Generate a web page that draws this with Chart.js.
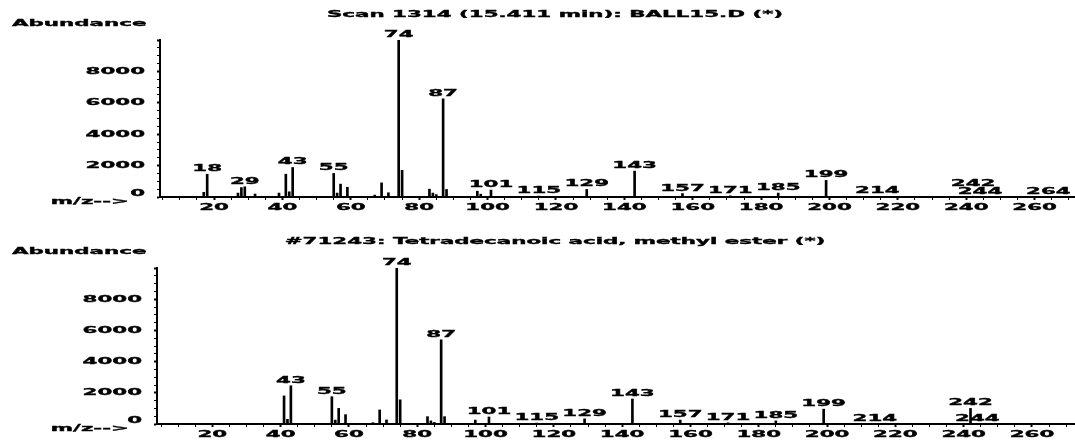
<!DOCTYPE html>
<html>
<head>
<meta charset="utf-8">
<script src="https://cdn.jsdelivr.net/npm/chart.js@4"></script>
<style>
  body { margin: 0; background: #fff; }
  .box { position: absolute; left: 0; width: 1075px; height: 221px; }
  #topBox { top: 0; }
  #botBox { top: 221px; }
</style>
</head>
<body>
<div class="box" id="topBox"><canvas id="scan" width="1075" height="221"></canvas></div>
<div class="box" id="botBox"><canvas id="lib" width="1075" height="221"></canvas></div>
<script>
// upper spectrum: the measured scan
var scanTitle = 'Scan 1314 (15.411 min): BALL15.D (*)';
var scanMz = [17, 18, 27, 28, 29, 32, 39, 41, 42, 43, 55, 56, 57, 59, 67, 69, 71, 74, 75, 83, 84, 85, 87, 88, 97, 98, 101, 115, 129, 143, 157, 171, 185, 199, 214, 242, 244, 264];
var scanAbundance = [300, 1450, 250, 600, 650, 190, 250, 1450, 330, 1880, 1500, 250, 820, 620, 120, 900, 270, 9990, 1700, 500, 250, 150, 6250, 480, 370, 180, 440, 60, 480, 1650, 220, 75, 250, 1060, 30, 50, 20, 20];
var scanLabelled = [18, 29, 43, 55, 74, 87, 101, 115, 129, 143, 157, 171, 185, 199, 214, 242, 244, 264];

// lower spectrum: library match
var libTitle = '#71243: Tetradecanoic acid, methyl ester (*)';
var libMz = [41, 42, 43, 55, 56, 57, 59, 67, 69, 71, 74, 75, 83, 84, 85, 87, 88, 97, 101, 115, 129, 143, 157, 171, 185, 199, 214, 242, 244];
var libAbundance = [1800, 300, 2450, 1750, 250, 1000, 600, 85, 900, 260, 9990, 1550, 470, 200, 100, 5400, 470, 250, 450, 60, 330, 1600, 250, 75, 200, 950, 30, 1000, 30];
var libLabelled = [43, 55, 74, 87, 101, 115, 129, 143, 157, 171, 185, 199, 214, 242, 244];

var xTickLabels = [20, 40, 60, 80, 100, 120, 140, 160, 180, 200, 220, 240, 260];
var yTickLabels = [0, 2000, 4000, 6000, 8000];

// the old printout uses a very wide bold face, so text is stretched sideways
var FONT = 'bold 9.5px "DejaVu Sans"';
var SX = 2.25;

function wide(ctx, str, x, y, align) {
	ctx.save();
	ctx.translate(x, y);
	ctx.scale(SX, 1);
	ctx.textAlign = align;
	ctx.textBaseline = 'middle';
	ctx.lineWidth = 0.35;
	ctx.strokeText(str, 0, 0);
	ctx.fillText(str, 0, 0);
	ctx.restore();
}

var specText = {
	id: 'specText',
	afterDraw: function(chart, args, o) {
		var ctx = chart.ctx;
		var xs = chart.scales.x, ys = chart.scales.y, area = chart.chartArea;
		ctx.save();
		ctx.fillStyle = '#000';
		ctx.strokeStyle = '#000';
		ctx.font = FONT;
		wide(ctx, o.title, 555, o.titleY, 'center');
		wide(ctx, 'Abundance', 12, o.abundY, 'left');
		wide(ctx, 'm/z-->', 129, area.bottom + 5, 'right');
		yTickLabels.forEach(function(v) {
			var py = ys.getPixelForValue(v) - (v === 0 ? 3 : 0);
			wide(ctx, String(v), area.left - 15, py, 'right');
		});
		xTickLabels.forEach(function(v) {
			wide(ctx, String(v), xs.getPixelForValue(v), area.bottom + 10.5, 'center');
		});

		// peak labels, right to left, lifted when they would overlap
		var meta = chart.getDatasetMeta(0);
		var pts = chart.data.datasets[0].data;
		var placed = [];
		for (var i = meta.data.length - 1; i >= 0; i--) {
			var m = pts[i].x;
			if (o.labelled.indexOf(m) < 0) continue;
			var el = meta.data[i];
			var w = ctx.measureText(String(m)).width * SX;
			var h = 8;
			var ly = el.y - 5.5;
			var moved = true;
			while (moved) {
				moved = false;
				for (var j = 0; j < placed.length; j++) {
					var p = placed[j];
					if (Math.abs(el.x - p.x) < (w + p.w) / 2 && Math.abs(ly - p.y) < h) {
						ly = p.y - h;
						moved = true;
					}
				}
			}
			placed.push({x: el.x, y: ly, w: w});
			wide(ctx, String(m), el.x, ly, 'center');
		}
		ctx.restore();
	}
};

function makeSpectrum(id, mz, abund, labelled, title, lay) {
	var pts = [];
	for (var i in mz) {
		pts.push({x: mz[i], y: abund[i]});
	}
	return new Chart(document.getElementById(id), {
		type: 'bar',
		data: {
			datasets: [{
				data: pts,
				backgroundColor: '#000',
				borderWidth: 0,
				barThickness: 2
			}]
		},
		options: {
			responsive: false,
			animation: false,
			layout: { padding: { top: lay.padTop, right: 1, left: 0, bottom: 0 } },
			plugins: {
				legend: { display: false },
				tooltip: { enabled: false },
				specText: { title: title, labelled: labelled, titleY: lay.titleY, abundY: lay.abundY }
			},
			scales: {
				x: {
					type: 'linear',
					min: lay.xMin,
					max: lay.xMax,
					offset: false,
					afterBuildTicks: function(s) {
						var t = [];
						for (var v = 5; v <= 270; v += 5) t.push({ value: v });
						s.ticks = t;
					},
					afterFit: function(s) { s.height = lay.xAxisH; },
					ticks: { display: false },
					grid: {
						offset: false,
						drawOnChartArea: false,
						tickLength: 3,
						tickColor: '#000',
						tickWidth: function(c) { return c.tick && c.tick.value % 20 === 0 ? 2 : 1; }
					},
					border: { color: '#000', width: 2 }
				},
				y: {
					min: 0,
					max: 10000,
					afterBuildTicks: function(s) {
						var t = [];
						for (var v = 0; v <= 10000; v += 500) t.push({ value: v });
						s.ticks = t;
					},
					afterFit: function(s) { s.width = lay.left; },
					ticks: { display: false },
					grid: {
						drawOnChartArea: false,
						tickLength: 3,
						tickColor: '#000',
						tickWidth: function(c) { return c.tick && c.tick.value % 2000 === 0 ? 2 : 1; }
					},
					border: { color: '#000', width: 2 }
				}
			}
		},
		plugins: [specText]
	});
}

var scanChart = makeSpectrum('scan', scanMz, scanAbundance, scanLabelled, scanTitle,
	{ left: 160, xAxisH: 24, padTop: 40, xMin: 4.2, xMax: 271.5, titleY: 15, abundY: 24 });
var libChart = makeSpectrum('lib', libMz, libAbundance, libLabelled, libTitle,
	{ left: 157, xAxisH: 18, padTop: 47, xMin: 3.8, xMax: 272.3, titleY: 21, abundY: 31 });
</script>
</body>
</html>
